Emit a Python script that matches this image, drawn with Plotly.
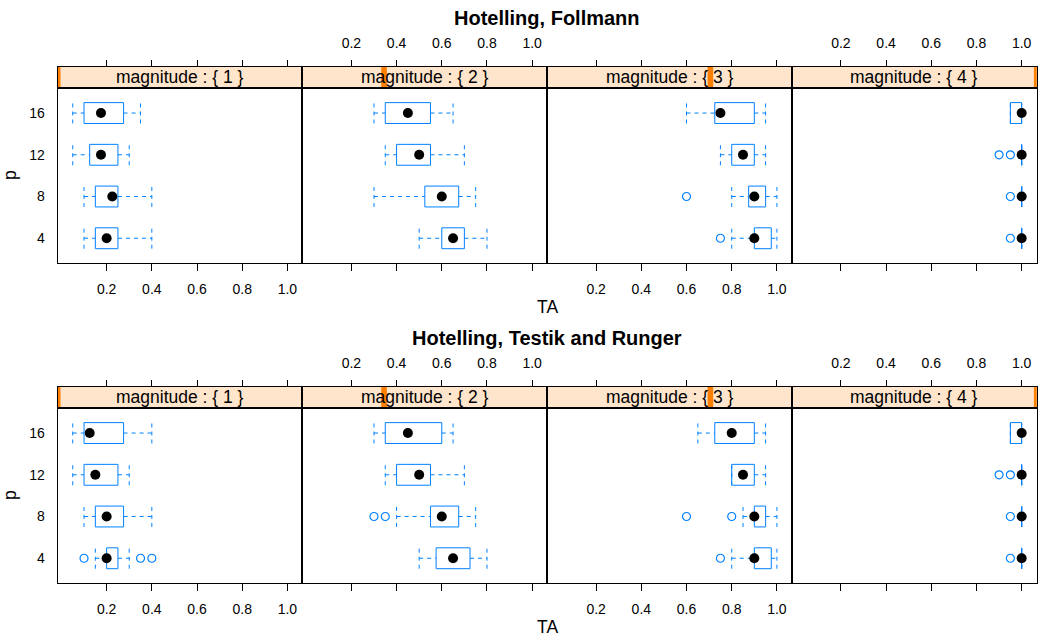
import plotly.graph_objects as go

# ---- data -------------------------------------------------------------
methods = ["Hotelling, Follmann", "Hotelling, Testik and Runger"]
magnitudes = [1, 2, 3, 4]
p_levels = [4, 8, 12, 16]
x_ticks = [0.2, 0.4, 0.6, 0.8, 1.0]
x_tick_text = ["0.2", "0.4", "0.6", "0.8", "1.0"]

# rows: magnitude 1..4, columns: p = 4, 8, 12, 16
fol_lo = [[0.10, 0.10, 0.05, 0.05], [0.50, 0.30, 0.35, 0.30],
          [0.80, 0.80, 0.75, 0.60], [1.00, 1.00, 1.00, 0.95]]
fol_q1 = [[0.15, 0.15, 0.125, 0.10], [0.60, 0.525, 0.40, 0.35],
          [0.90, 0.875, 0.80, 0.725], [1.00, 1.00, 1.00, 0.95]]
fol_med = [[0.20, 0.225, 0.175, 0.175], [0.65, 0.60, 0.50, 0.45],
           [0.90, 0.90, 0.85, 0.75], [1.00, 1.00, 1.00, 1.00]]
fol_q3 = [[0.25, 0.25, 0.25, 0.275], [0.70, 0.675, 0.55, 0.55],
          [0.975, 0.95, 0.90, 0.90], [1.00, 1.00, 1.00, 1.00]]
fol_hi = [[0.40, 0.40, 0.30, 0.35], [0.80, 0.75, 0.70, 0.65],
          [1.00, 1.00, 0.95, 0.95], [1.00, 1.00, 1.00, 1.00]]
fol_out = [[[], [], [], []], [[], [], [], []],
           [[0.75], [0.60], [], []], [[0.95], [0.95], [0.90, 0.95], []]]

tr_lo = [[0.15, 0.10, 0.05, 0.05], [0.50, 0.40, 0.35, 0.30],
         [0.80, 0.85, 0.80, 0.65], [1.00, 1.00, 1.00, 0.95]]
tr_q1 = [[0.20, 0.15, 0.10, 0.10], [0.575, 0.55, 0.40, 0.35],
         [0.90, 0.90, 0.80, 0.725], [1.00, 1.00, 1.00, 0.95]]
tr_med = [[0.20, 0.20, 0.15, 0.125], [0.65, 0.60, 0.50, 0.45],
          [0.90, 0.90, 0.85, 0.80], [1.00, 1.00, 1.00, 1.00]]
tr_q3 = [[0.25, 0.275, 0.25, 0.275], [0.725, 0.675, 0.55, 0.60],
         [0.975, 0.95, 0.90, 0.90], [1.00, 1.00, 1.00, 1.00]]
tr_hi = [[0.30, 0.40, 0.30, 0.40], [0.80, 0.75, 0.70, 0.65],
         [1.00, 1.00, 0.95, 0.95], [1.00, 1.00, 1.00, 1.00]]
tr_out = [[[0.10, 0.35, 0.40], [], [], []], [[], [0.30, 0.35], [], []],
          [[0.75], [0.60, 0.80], [], []], [[0.95], [0.95], [0.90, 0.95], []]]

stats = [
    (fol_lo, fol_q1, fol_med, fol_q3, fol_hi, fol_out),
    (tr_lo, tr_q1, tr_med, tr_q3, tr_hi, tr_out),
]

# ---- page geometry (pixels) ------------------------------------------
W, H = 1038, 644
PX0, PW = 57.7, 244.75
STRIP_TOP, STRIP_BOT, PANEL_BOT = 66.7, 88.0, 263.3
ROW_OFF = 320.0
X_RANGE = [-0.0165, 1.0665]
Y_RANGE = [0.4, 4.6]
HALF = 0.25  # half height of a box in category units

BLUE = "#0080ff"
STRIP_BG = "#ffe5cc"
STRIP_MARK = "#ff7f00"
FONT = "Liberation Sans, Arial, Helvetica, sans-serif"


def ax(prefix, k):
    return prefix if k == 1 else f"{prefix}{k}"


def ref(letter, k):
    return letter if k == 1 else f"{letter}{k}"


fig = go.Figure()
layout = {}
shapes = []
annotations = []

for r, (lo, q1, med, q3, hi, outl) in enumerate(stats):
    for c, mag in enumerate(magnitudes):
        k = r * 4 + c + 1
        s = 8 + k
        x0 = PX0 + c * PW
        x1 = x0 + PW
        yt = STRIP_TOP + r * ROW_OFF
        ym = STRIP_BOT + r * ROW_OFF
        yb = PANEL_BOT + r * ROW_OFF

        # panel axes
        layout[ax("xaxis", k)] = dict(
            domain=[x0 / W, x1 / W], anchor=ref("y", k), range=X_RANGE,
            tickvals=x_ticks, ticktext=x_tick_text, showticklabels=(c % 2 == 0),
            ticks="outside", ticklen=7, tickwidth=1, tickcolor="black",
            ticklabelstandoff=6,
            showline=True, mirror=True, linecolor="black", linewidth=1,
            showgrid=False, zeroline=False, fixedrange=True,
            tickfont=dict(size=14, color="black", family=FONT),
        )
        layout[ax("yaxis", k)] = dict(
            domain=[1 - yb / H, 1 - ym / H], anchor=ref("x", k), range=Y_RANGE,
            tickvals=[1, 2, 3, 4], ticktext=[str(p) for p in p_levels],
            showticklabels=(c == 0), ticks="", ticklabelstandoff=9,
            showline=True, mirror=True, linecolor="black", linewidth=1,
            showgrid=False, zeroline=False, fixedrange=True,
            tickfont=dict(size=14, color="black", family=FONT),
        )
        # strip axes (carry the top ticks)
        layout[ax("xaxis", s)] = dict(
            domain=[x0 / W, x1 / W], anchor=ref("y", s), range=X_RANGE,
            side="top", tickvals=x_ticks, ticktext=x_tick_text,
            showticklabels=(c % 2 == 1), ticks="outside", ticklen=6,
            tickwidth=1, tickcolor="black", ticklabelstandoff=6,
            showline=True, mirror=True, linecolor="black", linewidth=1,
            showgrid=False, zeroline=False, fixedrange=True,
            tickfont=dict(size=14, color="black", family=FONT),
        )
        layout[ax("yaxis", s)] = dict(
            domain=[1 - ym / H, 1 - yt / H], anchor=ref("x", s), range=[0, 1],
            showticklabels=False, ticks="", showline=True, mirror=True,
            linecolor="black", linewidth=1, showgrid=False, zeroline=False,
            fixedrange=True,
        )
        # empty trace so the strip subplot gets created
        fig.add_trace(go.Scatter(x=[None], y=[None], mode="markers",
                                 xaxis=ref("x", s), yaxis=ref("y", s),
                                 hoverinfo="skip", showlegend=False))

        xs_dom = f"{ref('x', s)} domain"
        ys_dom = f"{ref('y', s)} domain"
        shapes.append(dict(type="rect", xref=xs_dom, yref=ys_dom, x0=0, x1=1,
                           y0=0, y1=1, fillcolor=STRIP_BG, line_width=0,
                           layer="below"))
        cen = (mag - 1) / (len(magnitudes) - 1)
        hw = 2.8 / PW
        shapes.append(dict(type="rect", xref=xs_dom, yref=ys_dom,
                           x0=max(0, cen - hw), x1=min(1, cen + hw),
                           y0=0, y1=1, fillcolor=STRIP_MARK, line_width=0,
                           layer="below"))
        annotations.append(dict(
            xref=xs_dom, yref=ys_dom, x=0.5, y=0.5, showarrow=False,
            text=f"magnitude : {{ {mag} }}",
            font=dict(size=17.5, color="black", family=FONT),
            xanchor="center", yanchor="middle"))

        # boxes, whiskers, medians and outliers
        bx, by, wx, wy, mx, my, ox, oy = [], [], [], [], [], [], [], []
        m = c
        for i in range(len(p_levels)):
            yc = i + 1
            a, b, d, e, f = lo[m][i], q1[m][i], med[m][i], q3[m][i], hi[m][i]
            bx += [b, e, e, b, b, None]
            by += [yc - HALF, yc - HALF, yc + HALF, yc + HALF, yc - HALF, None]
            wx += [a, b, None, e, f, None, a, a, None, f, f, None]
            wy += [yc, yc, None, yc, yc, None,
                   yc - HALF, yc + HALF, None, yc - HALF, yc + HALF, None]
            mx.append(d)
            my.append(yc)
            for v in outl[m][i]:
                ox.append(v)
                oy.append(yc)

        xr, yr = ref("x", k), ref("y", k)
        fig.add_trace(go.Scatter(x=wx, y=wy, mode="lines", xaxis=xr, yaxis=yr,
                                 line=dict(color=BLUE, width=1, dash="4px,4px"),
                                 hoverinfo="skip", showlegend=False))
        fig.add_trace(go.Scatter(x=bx, y=by, mode="lines", xaxis=xr, yaxis=yr,
                                 line=dict(color=BLUE, width=1),
                                 hoverinfo="skip", showlegend=False))
        fig.add_trace(go.Scatter(x=ox, y=oy, mode="markers", xaxis=xr, yaxis=yr,
                                 marker=dict(symbol="circle-open", size=8,
                                             color=BLUE, line=dict(width=1.2,
                                                                   color=BLUE)),
                                 showlegend=False))
        fig.add_trace(go.Scatter(x=mx, y=my, mode="markers", xaxis=xr, yaxis=yr,
                                 marker=dict(symbol="circle", size=10,
                                             color="black"),
                                 showlegend=False))

    # row title and axis titles
    off = r * ROW_OFF
    mid_x = (PX0 + 2 * PW) / W
    annotations.append(dict(xref="paper", yref="paper", x=mid_x,
                            y=1 - (18 + off) / H, showarrow=False,
                            text=f"<b>{methods[r]}</b>",
                            font=dict(size=20, color="black", family=FONT),
                            xanchor="center", yanchor="middle"))
    annotations.append(dict(xref="paper", yref="paper", x=mid_x,
                            y=1 - (307 + off) / H, showarrow=False, text="TA",
                            font=dict(size=17.5, color="black", family=FONT),
                            xanchor="center", yanchor="middle"))
    annotations.append(dict(xref="paper", yref="paper", x=10 / W,
                            y=1 - (175 + off) / H, showarrow=False, text="p",
                            textangle=-90,
                            font=dict(size=17.5, color="black", family=FONT),
                            xanchor="center", yanchor="middle"))

fig.update_layout(
    width=W, height=H, margin=dict(l=0, r=0, t=0, b=0),
    paper_bgcolor="white", plot_bgcolor="white", showlegend=False,
    shapes=shapes, annotations=annotations, **layout,
)

fig.write_html("out.html")
